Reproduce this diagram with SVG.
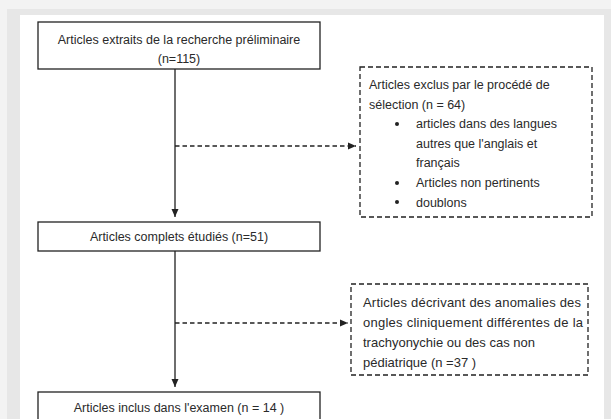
<svg xmlns="http://www.w3.org/2000/svg" width="611" height="419" viewBox="0 0 611 419">
<style>
text{font-family:"Liberation Sans",Arial,sans-serif;font-size:12.5px;fill:#2a2a2a}
.c{text-anchor:middle}
.b{font-size:13px}
.box{fill:#fff;stroke:#222;stroke-width:1.3}
.dbox{fill:#fff;stroke:#222;stroke-width:1.3;stroke-dasharray:5 3}
.solid{stroke:#4a4a4a;stroke-width:1.6;fill:none}
.dash{stroke:#222;stroke-width:1.3;stroke-dasharray:4.5 3;fill:none}
</style>
<defs>
<marker id="ah" markerUnits="userSpaceOnUse" markerWidth="8" markerHeight="8" refX="8" refY="4" orient="auto">
<path d="M0,0.5 L8,4 L0,7.5 z" fill="#222"/>
</marker>
</defs>
<rect x="0" y="0" width="611" height="419" fill="#f3f3f3"/>
<rect x="7" y="9" width="604" height="410" fill="#e7e7e7"/>
<rect x="20" y="15" width="584" height="404" fill="#fff"/>
<g id="connectors">
<line class="solid" x1="175" y1="69" x2="175" y2="217" marker-end="url(#ah)"/>
<line class="solid" x1="175" y1="251" x2="175" y2="387" marker-end="url(#ah)"/>
<line class="dash" x1="175" y1="146" x2="356" y2="146" marker-end="url(#ah)"/>
<line class="dash" x1="175" y1="323" x2="348" y2="323" marker-end="url(#ah)"/>
</g>
<g id="n1">
<rect class="box" x="38" y="22" width="282" height="47"/>
<text class="c" x="179" y="44">Articles extraits de la recherche préliminaire</text>
<text class="c" x="179" y="62.5">(n=115)</text>
</g>
<g id="n2">
<rect class="dbox" x="360" y="67" width="232" height="150"/>
<text x="369" y="89">Articles exclus par le procédé de</text>
<text x="369" y="108.5">sélection (n = 64)</text>
<circle cx="397" cy="124" r="2" fill="#222"/>
<text x="416" y="128">articles dans des langues</text>
<text x="416" y="147.5">autres que l'anglais et</text>
<text x="416" y="167">français</text>
<circle cx="397" cy="183" r="2" fill="#222"/>
<text x="416" y="187">Articles non pertinents</text>
<circle cx="397" cy="202" r="2" fill="#222"/>
<text x="416" y="206.5">doublons</text>
</g>
<g id="n3">
<rect class="box" x="38" y="222" width="282" height="29"/>
<text class="c" x="179" y="240.5">Articles complets étudiés (n=51)</text>
</g>
<g id="n4">
<rect class="dbox" x="351" y="284" width="237" height="91"/>
<text class="b" x="363" y="306.5" textLength="218" lengthAdjust="spacing">Articles décrivant des anomalies des</text>
<text class="b" x="363" y="326.5" textLength="220" lengthAdjust="spacing">ongles cliniquement différentes de la</text>
<text class="b" x="363" y="346.5">trachyonychie ou des cas non</text>
<text class="b" x="363" y="366.5">pédiatrique  (n =37 )</text>
</g>
<g id="n5">
<rect class="box" x="38" y="392" width="282" height="40"/>
<text class="c" x="179" y="411.5">Articles inclus dans l'examen (n = 14 )</text>
</g>
</svg>
